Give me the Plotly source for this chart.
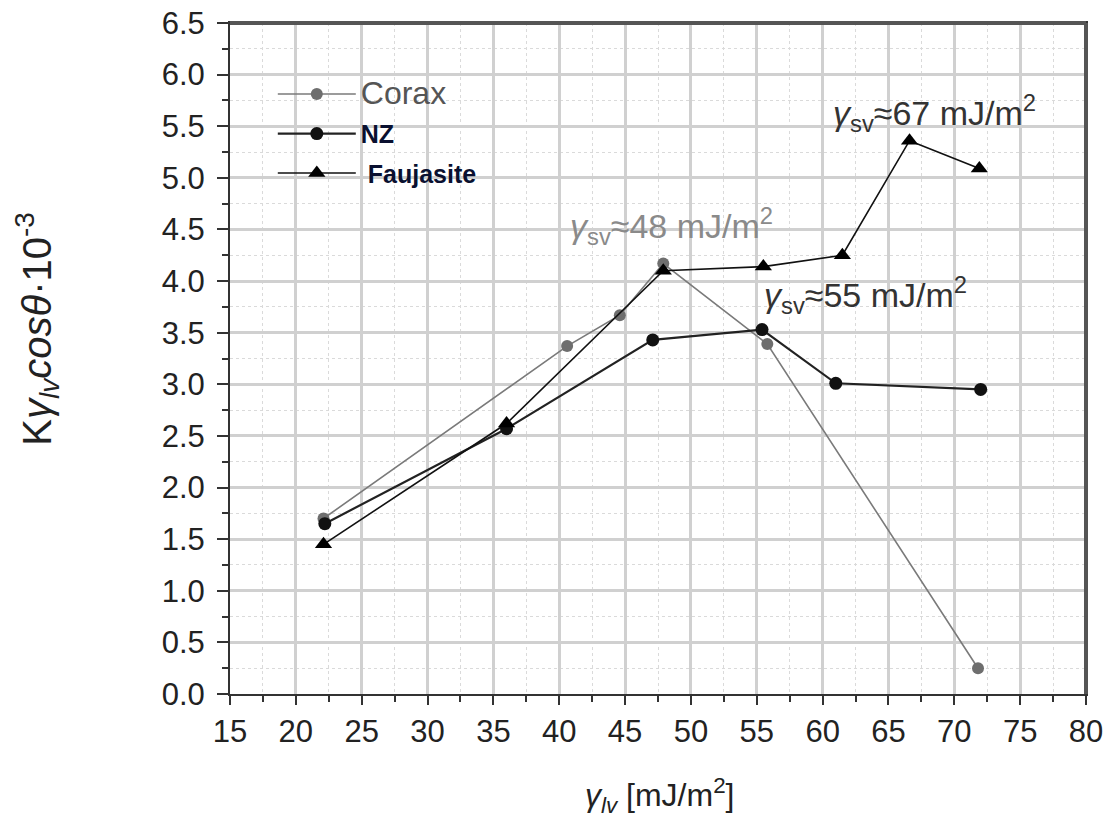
import plotly.graph_objects as go

# Data
corax_x = [22.1, 40.6, 44.6, 47.9, 55.8, 71.8]
corax_y = [1.70, 3.37, 3.67, 4.17, 3.39, 0.25]
nz_x = [22.2, 36.0, 47.1, 55.4, 61.0, 72.0]
nz_y = [1.65, 2.57, 3.43, 3.53, 3.01, 2.95]
fau_x = [22.1, 36.0, 47.9, 55.5, 61.5, 66.6, 71.9]
fau_y = [1.45, 2.62, 4.10, 4.14, 4.25, 5.36, 5.09]

x_ticks = list(range(15, 81, 5))
y_ticks = [i * 0.5 for i in range(0, 14)]

FONT = "Liberation Sans, Arial, sans-serif"
NARROW = "Liberation Sans Narrow, Arial Narrow, Liberation Sans, sans-serif"

fig = go.Figure()
fig.add_trace(go.Scatter(
    x=corax_x, y=corax_y, mode="lines+markers",
    name="<span style='color:#555;font-size:32px'>Corax</span>",
    line=dict(color="#7a7a7a", width=1.6),
    marker=dict(symbol="circle", size=12, color="#6e6e6e"),
    legendgroup="a"))
fig.add_trace(go.Scatter(
    x=nz_x, y=nz_y, mode="lines+markers",
    name="<b><span style='color:#0a1030'>NZ</span></b>",
    line=dict(color="#222222", width=2.2),
    marker=dict(symbol="circle", size=13, color="#111111"),
    legendgroup="b"))
fig.add_trace(go.Scatter(
    x=fau_x, y=fau_y, mode="lines+markers",
    name="<b><span style='color:#0a1030'> Faujasite</span></b>",
    line=dict(color="#111111", width=1.6),
    marker=dict(symbol="triangle-up", size=15, color="#000000"),
    legendgroup="c"))

ann_font = dict(family=FONT, size=34)
fig.add_annotation(x=40.7, y=4.53, xref="x", yref="y", xanchor="left", yanchor="middle",
                   text="<i>γ</i><sub>sv</sub>≈48 mJ/m<sup>2</sup>", showarrow=False,
                   font=dict(ann_font, color="#8a8a8a"))
fig.add_annotation(x=55.4, y=3.87, xref="x", yref="y", xanchor="left", yanchor="middle",
                   text="<i>γ</i><sub>sv</sub>≈55 mJ/m<sup>2</sup>", showarrow=False,
                   font=dict(ann_font, color="#333333"))
fig.add_annotation(x=60.6, y=5.63, xref="x", yref="y", xanchor="left", yanchor="middle",
                   text="<i>γ</i><sub>sv</sub>≈67 mJ/m<sup>2</sup>", showarrow=False,
                   font=dict(ann_font, color="#333333"))
# axis titles (placed as annotations to match reference position)
fig.add_annotation(x=-0.225, y=0.545, xref="paper", yref="paper", xanchor="center", yanchor="middle",
                   text="K<i>γ</i><sub><i>lv</i></sub><i>cosθ</i>·10<sup>-3</sup>", textangle=-90,
                   showarrow=False, font=dict(family=FONT, size=40, color="#222222"))
fig.add_annotation(x=0.502, y=-0.152, xref="paper", yref="paper", xanchor="center", yanchor="middle",
                   text="<i>γ</i><sub><i>lv</i></sub> [mJ/m<sup>2</sup>]",
                   showarrow=False, font=dict(family=FONT, size=32, color="#222222"))

fig.update_layout(
    width=1111, height=829,
    margin=dict(l=230, r=25, t=23, b=135, autoexpand=False),
    paper_bgcolor="white", plot_bgcolor="white",
    font=dict(family=FONT, size=24, color="#222222"),
    showlegend=True,
    legend=dict(x=0.05, y=0.928, xanchor="left", yanchor="top",
                bgcolor="rgba(0,0,0,0)", font=dict(family=FONT, size=25),
                tracegroupgap=4, itemwidth=78),
    shapes=[
        dict(type="line", xref="paper", yref="paper", x0=1, x1=1, y0=0, y1=1,
             line=dict(color="#555555", width=4)),
        dict(type="line", xref="paper", yref="paper", x0=0, x1=1, y0=1, y1=1,
             line=dict(color="#555555", width=4)),
    ],
)

fig.update_xaxes(
    range=[15, 80], tickvals=x_ticks, ticktext=[str(v) for v in x_ticks],
    automargin=False,
    showline=True, linecolor="#333333", linewidth=2, mirror=True,
    ticks="outside", ticklen=9, tickwidth=2, tickcolor="#333333",
    showgrid=True, gridcolor="#d0d0d0", gridwidth=3, zeroline=False,
    minor=dict(dtick=2.5, ticks="outside", ticklen=6, tickwidth=2, tickcolor="#333333",
               showgrid=True, gridcolor="#dadada", gridwidth=1, griddash="dot"),
    tickfont=dict(family=NARROW, size=31, color="#222222"),
)
fig.update_yaxes(
    range=[0, 6.5], tickvals=y_ticks, ticktext=[f"{v:.1f}" for v in y_ticks],
    automargin=False,
    showline=True, linecolor="#333333", linewidth=2, mirror=True,
    ticks="outside", ticklen=11, tickwidth=2, tickcolor="#333333",
    showgrid=True, gridcolor="#d0d0d0", gridwidth=3, zeroline=False,
    minor=dict(dtick=0.25, ticks="outside", ticklen=6, tickwidth=2, tickcolor="#333333",
               showgrid=True, gridcolor="#dadada", gridwidth=1, griddash="dot"),
    tickfont=dict(family=NARROW, size=31, color="#222222"),
    ticklabelstandoff=6,
)

fig.write_html("out.html")
